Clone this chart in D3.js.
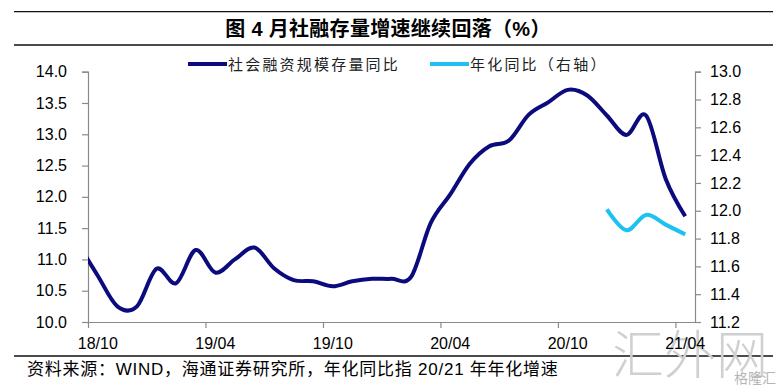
<!DOCTYPE html>
<html>
<head>
<meta charset="utf-8">
<script src="https://cdn.jsdelivr.net/npm/d3@7"></script>
<style>
  body { margin: 0; background: #fff; }
  svg { display: block; }
</style>
</head>
<body>
<div id="chart"></div>
<script>
// monthly categories; 18/09 only feeds the curve where it enters the plot
const months = ['18/09','18/10','18/11','18/12','19/01','19/02','19/03','19/04','19/05','19/06','19/07',
  '19/08','19/09','19/10','19/11','19/12','20/01','20/02','20/03','20/04','20/05','20/06','20/07',
  '20/08','20/09','20/10','20/11','20/12','21/01','21/02','21/03','21/04'];
const tsfYoY = [11.25, 10.74, 10.25, 10.25, 10.85, 10.62, 11.15, 10.79, 11.0, 11.19, 10.86, 10.67,
  10.65, 10.57, 10.65, 10.69, 10.69, 10.72, 11.58, 12.04, 12.53, 12.81, 12.90, 13.31, 13.51, 13.71,
  13.62, 13.30, 12.99, 13.30, 12.29, 11.69];
const annualMonths = ['20/12','21/01','21/02','21/03','21/04'];
const annualYoY = [12.01, 11.86, 11.97, 11.90, 11.83];
const xLabels = ['18/10','19/04','19/10','20/04','20/10','21/04'];
const leftTicks = [10.0, 10.5, 11.0, 11.5, 12.0, 12.5, 13.0, 13.5, 14.0];
const rightTicks = [11.2, 11.4, 11.6, 11.8, 12.0, 12.2, 12.4, 12.6, 12.8, 13.0];

const W = 781, H = 389;
const plot = {left: 88, right: 695, top: 71.7, bottom: 322};
const numFont = '"Liberation Sans", Arial, "Noto Sans CJK SC", sans-serif';
const cjkFont = '"Liberation Sans", "Noto Sans CJK SC", sans-serif';
const axisColor = '#8a8a8a';
const darkBlue = '#0b0b7d';
const lightBlue = '#1ec2f0';

// index 0 = 18/10 (first shown category)
const idx = m => months.indexOf(m) - 1;
const nCat = months.length - 1;

const x = d3.scaleLinear().domain([-0.5, nCat - 0.5]).range([plot.left, plot.right]);
const yL = d3.scaleLinear().domain([10, 14]).range([plot.bottom, plot.top]);
const yR = d3.scaleLinear().domain([11.2, 13.0]).range([plot.bottom, plot.top]);

const svg = d3.select('#chart').append('svg')
    .attr('width', W)
    .attr('height', H);

svg.append('defs').append('clipPath')
    .attr('id', 'plotclip')
  .append('rect')
    .attr('x', plot.left)
    .attr('y', 0)
    .attr('width', plot.right - plot.left)
    .attr('height', H);

// header / footer rules
[11.7, 45, 356].forEach(yy => {
  svg.append('line')
      .attr('x1', 14).attr('x2', 773)
      .attr('y1', yy).attr('y2', yy)
      .attr('stroke', '#111')
      .attr('stroke-width', 1.3);
});

svg.append('text')
    .attr('x', 388)
    .attr('y', 29)
    .attr('text-anchor', 'middle')
    .attr('dominant-baseline', 'central')
    .style('font', `bold 20px ${cjkFont}`)
    .style('letter-spacing', '0.3px')
    .text('图 4 月社融存量增速继续回落（%）');

// watermark
svg.append('text')
    .attr('x', 690)
    .attr('y', 374)
    .attr('text-anchor', 'middle')
    .attr('fill', '#d0d0d0')
    .style('font', '200 52px "Noto Sans CJK SC", sans-serif')
    .text('汇外网');
svg.append('text')
    .attr('x', 776)
    .attr('y', 383)
    .attr('text-anchor', 'end')
    .attr('fill', '#b5b5b5')
    .style('font', '14px "Noto Sans CJK SC", sans-serif')
    .text('格隆汇');

// axes
const xAxis = d3.axisBottom(x)
    .tickValues(d3.range(-0.5, nCat, 6))
    .tickSize(6)
    .tickFormat('');
const gx = svg.append('g')
    .attr('transform', `translate(0,${plot.bottom})`)
    .call(xAxis);
gx.select('.domain').attr('d', `M${plot.left},0.5H${plot.right}`);

svg.append('g')
  .selectAll('text')
  .data(xLabels)
  .join('text')
    .attr('x', d => x(idx(d)))
    .attr('y', plot.bottom + 21)
    .attr('text-anchor', 'middle')
    .attr('dominant-baseline', 'central')
    .style('font', `16px ${numFont}`)
    .attr('fill', '#000')
    .text(d => d);

const gl = svg.append('g')
    .attr('transform', `translate(${plot.left},0)`)
    .call(d3.axisLeft(yL).tickValues(leftTicks).tickSize(6).tickPadding(15).tickFormat(d3.format('.1f')));
const gr = svg.append('g')
    .attr('transform', `translate(${plot.right},0)`)
    .call(d3.axisRight(yR).tickValues(rightTicks).tickSize(6).tickPadding(9).tickFormat(d3.format('.1f')));

[gx, gl, gr].forEach(g => {
  g.selectAll('.domain').attr('stroke', axisColor).attr('stroke-width', 1.2);
  g.selectAll('.tick line').attr('stroke', axisColor).attr('stroke-width', 1.2);
  g.selectAll('.tick text')
      .attr('fill', '#000')
      .style('font', `16px ${numFont}`);
});

// lines
const curve = d3.curveCatmullRom.alpha(0);
const tsfLine = d3.line()
    .x((d, i) => x(i - 1))
    .y(d => yL(d))
    .curve(curve);
svg.append('path')
    .datum(tsfYoY)
    .attr('clip-path', 'url(#plotclip)')
    .attr('fill', 'none')
    .attr('stroke', darkBlue)
    .attr('stroke-width', 4)
    .attr('stroke-linejoin', 'round')
    .attr('d', tsfLine);

const annualLine = d3.line()
    .x((d, i) => x(idx(annualMonths[i])))
    .y(d => yR(d))
    .curve(curve);
svg.append('path')
    .datum(annualYoY)
    .attr('fill', 'none')
    .attr('stroke', lightBlue)
    .attr('stroke-width', 4)
    .attr('stroke-linejoin', 'round')
    .attr('d', annualLine);

// legend
const legendItems = [
  {label: '社会融资规模存量同比', color: darkBlue, x: 188},
  {label: '年化同比（右轴）', color: lightBlue, x: 430}
];
const lg = svg.append('g');
legendItems.forEach(item => {
  lg.append('line')
      .attr('x1', item.x).attr('x2', item.x + 39)
      .attr('y1', 64).attr('y2', 64)
      .attr('stroke', item.color)
      .attr('stroke-width', 4);
  lg.append('text')
      .attr('x', item.x + 40)
      .attr('y', 64)
      .attr('dominant-baseline', 'central')
      .style('font', `15px ${cjkFont}`)
      .style('letter-spacing', '2.2px')
      .attr('fill', '#222')
      .text(item.label);
});

// source note
svg.append('text')
    .attr('x', 27)
    .attr('y', 369)
    .attr('dominant-baseline', 'central')
    .style('font', `17px ${cjkFont}`)
    .style('letter-spacing', '0.75px')
    .attr('fill', '#000')
    .text('资料来源：WIND，海通证券研究所，年化同比指 20/21 年年化增速');
</script>
</body>
</html>
